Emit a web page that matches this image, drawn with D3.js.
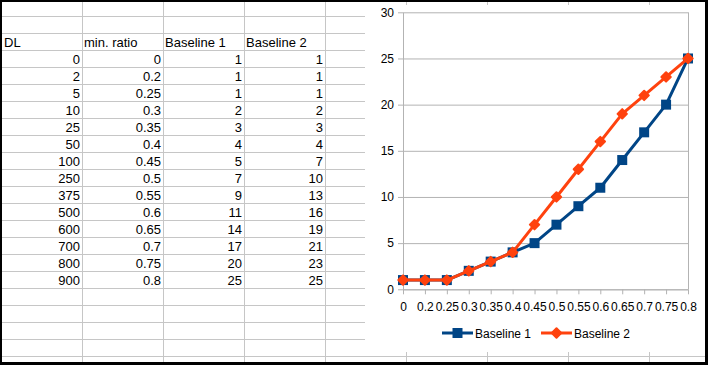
<!DOCTYPE html>
<html>
<head>
<meta charset="utf-8">
<script src="https://cdn.jsdelivr.net/npm/d3@7"></script>
<style>
  body { margin: 0; background: #fff; }
  text { font-family: "Liberation Sans", Arial, sans-serif; }
</style>
</head>
<body>
<script>
// table / chart data
var dl = [0, 2, 5, 10, 25, 50, 100, 250, 375, 500, 600, 700, 800, 900];
var minRatio = ["0", "0.2", "0.25", "0.3", "0.35", "0.4", "0.45", "0.5", "0.55", "0.6", "0.65", "0.7", "0.75", "0.8"];
var baseline1 = [1, 1, 1, 2, 3, 4, 5, 7, 9, 11, 14, 17, 20, 25];
var baseline2 = [1, 1, 1, 2, 3, 4, 7, 10, 13, 16, 19, 21, 23, 25];
var headers = ["DL", "min. ratio", "Baseline 1", "Baseline 2"];
var yTicks = [0, 5, 10, 15, 20, 25, 30];
var seriesNames = ["Baseline 1", "Baseline 2"];
var seriesColors = ["#004586", "#ff420e"];

var W = 708, H = 365;
var svg = d3.select("body").append("svg")
  .attr("width", W)
  .attr("height", H);

// frame
svg.append("rect").attr("width", W).attr("height", H).attr("fill", "#000");
svg.append("rect").attr("x", 2).attr("y", 2).attr("width", 703).attr("height", 360).attr("fill", "#fff");

// spreadsheet grid
var colEdges = [82, 163, 244, 325, 406, 487, 568, 649];
var rowEdges = d3.range(16, 357, 17);
var grid = svg.append("g").attr("stroke", "#c6c6c6").attr("stroke-width", 1);
colEdges.forEach(function (x) {
  grid.append("line").attr("x1", x + 0.5).attr("x2", x + 0.5).attr("y1", 2).attr("y2", 362);
});
rowEdges.forEach(function (y) {
  grid.append("line").attr("x1", 2).attr("x2", 705).attr("y1", y + 0.5).attr("y2", y + 0.5);
});

// cells
var cellFont = 13;
var headTop = 33;
var tbl = svg.append("g").attr("font-size", cellFont).attr("fill", "#000");
headers.forEach(function (h, i) {
  var left = i == 0 ? 2 : colEdges[i - 1];
  tbl.append("text").attr("x", left + 2).attr("y", headTop + 13.8).text(h);
});
for (var r = 0; r < dl.length; r++) {
  var rowY = headTop + 17 * (r + 1) + 13.8;
  var vals = [dl[r], minRatio[r], baseline1[r], baseline2[r]];
  for (var c = 0; c < vals.length; c++) {
    tbl.append("text")
      .attr("x", colEdges[c] - 2)
      .attr("y", rowY)
      .attr("text-anchor", "end")
      .text(vals[c]);
  }
}

// chart object
svg.append("rect").attr("x", 365).attr("y", 5).attr("width", 340).attr("height", 347).attr("fill", "#fff");

var x = d3.scalePoint().domain(minRatio).range([403, 688]);
var y = d3.scaleLinear().domain([0, 30]).range([289.3, 12.3]);
var axisColor = "#b3b3b3";

// horizontal gridlines
svg.append("g")
  .attr("transform", "translate(403,0)")
  .call(d3.axisLeft(y).tickValues(yTicks).tickSize(-285).tickFormat(""))
  .call(function (g) {
    g.select(".domain").remove();
    g.selectAll("line").attr("stroke", axisColor);
  });

// y axis
svg.append("g")
  .attr("transform", "translate(403,0)")
  .call(d3.axisLeft(y).tickValues(yTicks).tickSize(5).tickSizeOuter(0).tickPadding(4))
  .call(function (g) {
    g.select(".domain").attr("stroke", axisColor);
    g.selectAll("line").attr("stroke", axisColor);
    g.selectAll("text").attr("font-size", 12).attr("fill", "#000").attr("font-family", "Liberation Sans, Arial, sans-serif");
  });

// right edge of plot
svg.append("line")
  .attr("x1", 688.5).attr("x2", 688.5)
  .attr("y1", y(30)).attr("y2", y(0))
  .attr("stroke", axisColor);

// x axis
svg.append("g")
  .attr("transform", "translate(0," + y(0) + ")")
  .call(d3.axisBottom(x).tickSize(5).tickSizeOuter(0).tickPadding(8))
  .call(function (g) {
    g.select(".domain").attr("stroke", axisColor);
    g.selectAll("line").attr("stroke", axisColor);
    g.selectAll("text").attr("font-size", 12).attr("fill", "#000").attr("font-family", "Liberation Sans, Arial, sans-serif");
  });

// series
var series = [baseline1, baseline2];
var symbolSizes = [100, 44];
var symbolRot = [0, 45];
var line = d3.line()
  .x(function (d, i) { return x(minRatio[i]); })
  .y(function (d) { return y(d); });

series.forEach(function (s, k) {
  var g = svg.append("g");
  g.append("path")
    .datum(s)
    .attr("d", line)
    .attr("fill", "none")
    .attr("stroke", seriesColors[k])
    .attr("stroke-width", 3)
    .attr("stroke-linejoin", "round");
  g.selectAll("path.pt")
    .data(s)
    .enter()
    .append("path")
    .attr("class", "pt")
    .attr("d", d3.symbol().type(d3.symbolSquare).size(symbolSizes[k]))
    .attr("transform", function (d, i) { return "translate(" + x(minRatio[i]) + "," + y(d) + ") rotate(" + symbolRot[k] + ")"; })
    .attr("fill", seriesColors[k])
    .attr("stroke", seriesColors[k])
    .attr("stroke-width", k == 1 ? 2 : 0)
    .attr("stroke-linejoin", "round");
});

// legend
var legendX = [442, 541];
var legendY = 333;
seriesNames.forEach(function (name, k) {
  var g = svg.append("g").attr("transform", "translate(" + legendX[k] + "," + legendY + ")");
  g.append("line").attr("x1", 0).attr("x2", 31).attr("y1", 0).attr("y2", 0)
    .attr("stroke", seriesColors[k]).attr("stroke-width", 3);
  g.append("path")
    .attr("d", d3.symbol().type(d3.symbolSquare).size(symbolSizes[k]))
    .attr("transform", "translate(15.5,0) rotate(" + symbolRot[k] + ")")
    .attr("fill", seriesColors[k])
    .attr("stroke", seriesColors[k])
    .attr("stroke-width", k == 1 ? 2 : 0)
    .attr("stroke-linejoin", "round");
  g.append("text")
    .attr("x", 33)
    .attr("y", 4.5)
    .attr("font-size", 12)
    .attr("fill", "#000")
    .text(name);
});
</script>
</body>
</html>
